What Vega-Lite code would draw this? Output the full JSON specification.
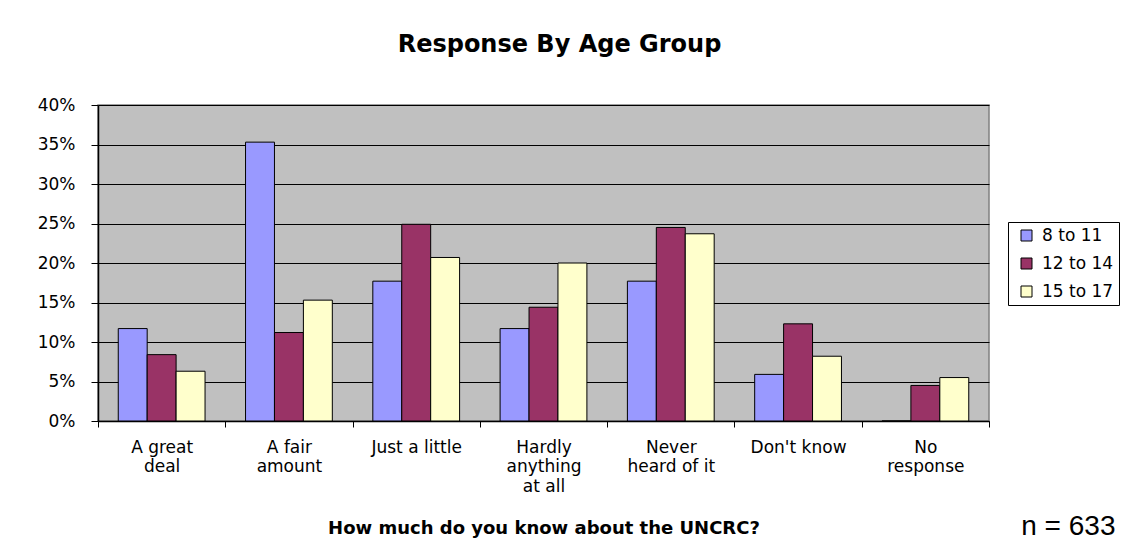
{
  "$schema": "https://vega.github.io/schema/vega-lite/v6.json",
  "width": 891,
  "height": 316,
  "autosize": {"type": "none"},
  "padding": {"left": 98, "top": 105, "right": 137, "bottom": 127},
  "background": "white",
  "title": {
    "text": "Response By Age Group",
    "font": "DejaVu Sans",
    "fontSize": 24,
    "fontWeight": "bold",
    "color": "black",
    "anchor": "middle",
    "dx": 16,
    "offset": 15,
    "baseline": "bottom"
  },
  "config": {
    "view": {"stroke": "#808080", "strokeWidth": 1.5, "fill": "#C0C0C0"}
  },
  "layer": [
    {
      "data": {
        "values": [
          {"category": "A great deal", "age": "8 to 11", "pct": 11.7},
          {"category": "A great deal", "age": "12 to 14", "pct": 8.4},
          {"category": "A great deal", "age": "15 to 17", "pct": 6.3},
          {"category": "A fair amount", "age": "8 to 11", "pct": 35.3},
          {"category": "A fair amount", "age": "12 to 14", "pct": 11.2},
          {"category": "A fair amount", "age": "15 to 17", "pct": 15.3},
          {"category": "Just a little", "age": "8 to 11", "pct": 17.7},
          {"category": "Just a little", "age": "12 to 14", "pct": 24.9},
          {"category": "Just a little", "age": "15 to 17", "pct": 20.7},
          {"category": "Hardly anything at all", "age": "8 to 11", "pct": 11.7},
          {"category": "Hardly anything at all", "age": "12 to 14", "pct": 14.4},
          {"category": "Hardly anything at all", "age": "15 to 17", "pct": 20.0},
          {"category": "Never heard of it", "age": "8 to 11", "pct": 17.7},
          {"category": "Never heard of it", "age": "12 to 14", "pct": 24.5},
          {"category": "Never heard of it", "age": "15 to 17", "pct": 23.7},
          {"category": "Don't know", "age": "8 to 11", "pct": 5.9},
          {"category": "Don't know", "age": "12 to 14", "pct": 12.3},
          {"category": "Don't know", "age": "15 to 17", "pct": 8.2},
          {"category": "No response", "age": "8 to 11", "pct": 0},
          {"category": "No response", "age": "12 to 14", "pct": 4.5},
          {"category": "No response", "age": "15 to 17", "pct": 5.5}
        ]
      },
      "mark": {"type": "bar", "stroke": "black", "strokeWidth": 1},
      "encoding": {
        "x": {
          "field": "category",
          "type": "nominal",
          "sort": ["A great deal", "A fair amount", "Just a little", "Hardly anything at all", "Never heard of it", "Don't know", "No response"],
          "scale": {"paddingInner": 0, "paddingOuter": 0},
          "axis": {
            "title": "How much do you know about the UNCRC?",
            "titleFont": "DejaVu Sans",
            "titleFontWeight": "bold",
            "titleFontSize": 18,
            "titleColor": "black",
            "titlePadding": 25,
            "labelAngle": 0,
            "labelFont": "DejaVu Sans",
            "labelFontSize": 17,
            "labelColor": "black",
            "labelLineHeight": 19.5,
            "labelPadding": 12,
            "labelBaseline": "top",
            "labelLimit": 0,
            "labelOverlap": false,
            "tickBand": "extent",
            "tickSize": 6,
            "tickColor": "black",
            "domainColor": "black",
            "domainWidth": 1.5,
            "grid": false,
            "labelExpr": "datum.label == 'A great deal' ? ['A great','deal'] : datum.label == 'A fair amount' ? ['A fair','amount'] : datum.label == 'Hardly anything at all' ? ['Hardly','anything','at all'] : datum.label == 'Never heard of it' ? ['Never','heard of it'] : datum.label == 'No response' ? ['No','response'] : datum.label"
          }
        },
        "xOffset": {
          "field": "age",
          "type": "nominal",
          "sort": ["8 to 11", "12 to 14", "15 to 17"],
          "scale": {"paddingInner": 0, "paddingOuter": 0.7}
        },
        "y": {
          "field": "pct",
          "type": "quantitative",
          "scale": {"domain": [0, 40], "nice": false},
          "axis": {
            "title": null,
            "values": [0, 5, 10, 15, 20, 25, 30, 35, 40],
            "labelOverlap": false,
            "labelExpr": "datum.value + '%'",
            "labelFont": "DejaVu Sans",
            "labelFontSize": 17,
            "labelColor": "black",
            "labelPadding": 16,
            "tickSize": 7,
            "tickColor": "black",
            "domainColor": "black",
            "domainWidth": 1.5,
            "grid": true,
            "gridColor": "black",
            "gridOpacity": 1,
            "gridWidth": 1
          }
        },
        "color": {
          "field": "age",
          "type": "nominal",
          "sort": ["8 to 11", "12 to 14", "15 to 17"],
          "scale": {"domain": ["8 to 11", "12 to 14", "15 to 17"], "range": ["#9999FF", "#993366", "#FFFFCC"]},
          "legend": {
            "title": null,
            "orient": "none",
            "legendX": 910,
            "legendY": 117,
            "strokeColor": "black",
            "fillColor": "white",
            "padding": 5,
            "symbolOffset": 5,
            "symbolType": "square",
            "symbolSize": 121,
            "symbolStrokeColor": "black",
            "symbolStrokeWidth": 1,
            "symbolOpacity": 1,
            "labelFont": "DejaVu Sans",
            "labelFontSize": 17,
            "labelColor": "black",
            "rowPadding": 10,
            "labelOffset": 7
          }
        }
      }
    },
    {
      "data": {"values": [{"note": "n = 633"}]},
      "mark": {
        "type": "text",
        "font": "Liberation Sans",
        "fontSize": 28,
        "color": "black",
        "align": "center",
        "baseline": "middle",
        "dx": 143,
        "dy": 106
      },
      "encoding": {
        "text": {"field": "note", "type": "nominal"},
        "x": {"datum": "No response", "type": "nominal"},
        "y": {
          "datum": 0,
          "type": "quantitative",
          "axis": {
            "title": null,
            "values": [0, 5, 10, 15, 20, 25, 30, 35, 40],
            "labelOverlap": false,
            "labelExpr": "datum.value + '%'",
            "labelFont": "DejaVu Sans",
            "labelFontSize": 17,
            "labelColor": "black",
            "labelPadding": 16,
            "tickSize": 7,
            "tickColor": "black",
            "domainColor": "black",
            "domainWidth": 1.5,
            "grid": true,
            "gridColor": "black",
            "gridOpacity": 1,
            "gridWidth": 1
          }
        }
      }
    }
  ]
}
